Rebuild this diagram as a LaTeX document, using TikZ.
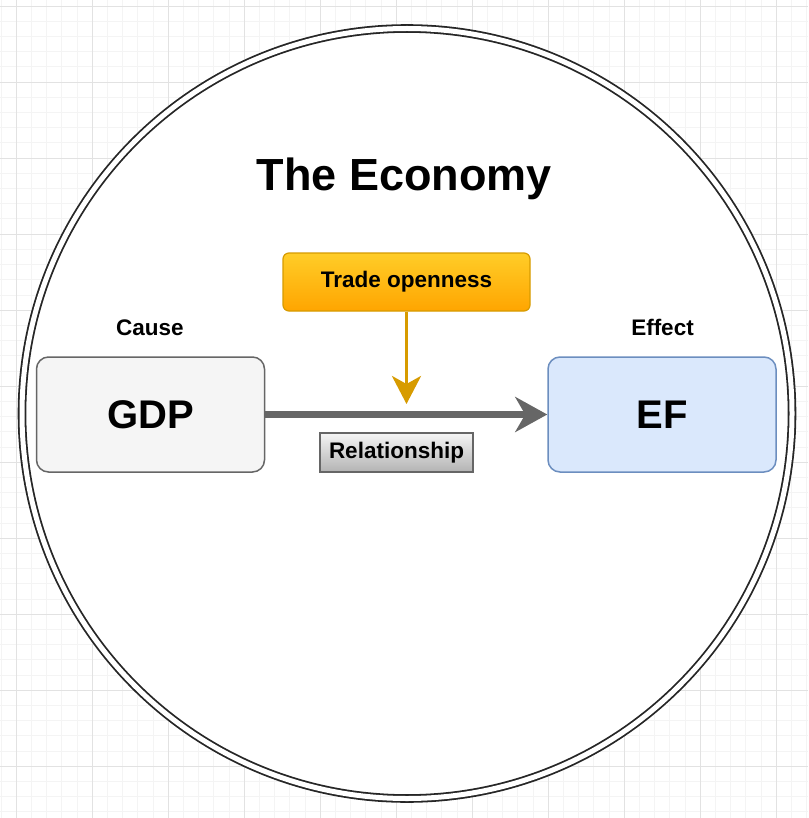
\documentclass[tikz,border=0pt]{standalone}
\usepackage{fontspec}
\setmainfont{Liberation Sans}
\usetikzlibrary{arrows.meta}

\definecolor{gridmajor}{HTML}{E2E2E2}
\definecolor{gridminor}{HTML}{F4F4F4}
\definecolor{causefill}{HTML}{F5F5F5}
\definecolor{causeline}{HTML}{666666}
\definecolor{effectfill}{HTML}{DAE8FC}
\definecolor{effectline}{HTML}{6C8EBF}
\definecolor{tradetop}{HTML}{FFCD28}
\definecolor{tradebottom}{HTML}{FFA500}
\definecolor{tradeline}{HTML}{D79B00}
\definecolor{relbottom}{HTML}{B3B3B3}

\begin{document}
\begin{tikzpicture}[x=1pt,y=-1pt,
  varbox/.style={rounded corners=12pt,line width=1.5pt,minimum width=228pt,
    minimum height=115pt,font=\fontsize{40}{40}\selectfont\bfseries},
  smalltext/.style={font=\fontsize{22.5}{22.5}\selectfont\bfseries},
  caption/.style={smalltext,anchor=base}]
 \useasboundingbox (0,0) rectangle (808,818);
 % background grid
 \foreach \i in {0,...,53} \draw[gridminor,line width=0.6pt]({0.8+15.2*\i},0)--({0.8+15.2*\i},818);
 \foreach \i in {0,...,53} \draw[gridminor,line width=0.6pt](0,{6+15.2*\i})--(808,{6+15.2*\i});
 \foreach \i in {0,...,10} \draw[gridmajor,line width=0.8pt]({16+76*\i},0)--({16+76*\i},818);
 \foreach \i in {0,...,10} \draw[gridmajor,line width=0.8pt](0,{6+76*\i})--(808,{6+76*\i});
 % the economy
 \draw[black!85,line width=1.8pt,double=white,double distance=5pt,fill=white](407,413.5) circle[radius=385pt];
 \node[anchor=base,font=\fontsize{45}{45}\selectfont\bfseries] (title) at (404.5,191) {The Economy};

 \node[varbox,draw=causeline,fill=causefill] (gdp) at (150.5,414.5) {GDP};
 \node[varbox,draw=effectline,fill=effectfill] (ef) at (662,414.5) {EF};
 \node[caption] (cause) at (150,335) {Cause};
 \node[caption] (effect) at (662.5,335) {Effect};

 \node[smalltext,draw=tradeline,line width=1.2pt,rounded corners=6pt,top color=tradetop,bottom color=tradebottom,
   minimum width=247pt,minimum height=58pt] (trade) at (406.5,282) {Trade openness};
 \node[smalltext,draw=causeline,line width=1.2pt,top color=causefill,bottom color=relbottom,
   minimum width=153pt,minimum height=39pt] (rel) at (396.5,452.5) {Relationship};

 \coordinate (hit) at (406.5,404);
 \draw[causeline,line width=6.5pt,-{Stealth[length=32pt,width=35pt,inset=10pt]}](gdp)--(ef);
 \draw[tradeline,line width=3.5pt,-{Stealth[length=28pt,width=29pt,inset=8pt]}](trade)--(hit);
\end{tikzpicture}
\end{document}
